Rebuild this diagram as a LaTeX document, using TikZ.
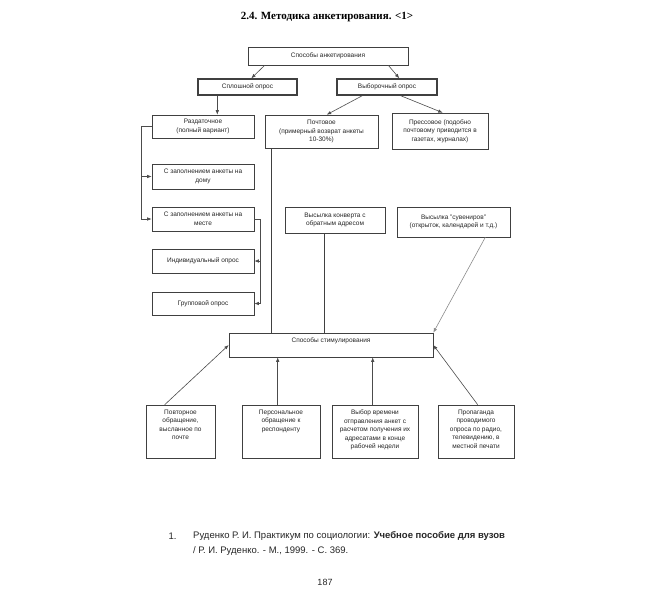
\documentclass[tikz,border=0pt]{standalone}
\usepackage{fontspec}
\setmainfont{Liberation Sans}
\newfontfamily\titlefont{Liberation Serif}
\usetikzlibrary{arrows.meta}
\newcommand\tbox[3]{\parbox[c][#1][t]{#2}{\centering\vspace*{3pt}#3}}
\begin{document}
\begin{tikzpicture}[x=1pt,y=-1pt,
  bx/.style={draw=black!75, line width=0.6pt, inner sep=1pt, align=center,
    font=\fontsize{6.5}{8.5}\selectfont, text=black!85},
  thk/.style={bx, line width=1.4pt},
  arr/.style={draw=black!70, line width=0.6pt, -{Latex[length=4.5pt,width=3.5pt]}},
  ln/.style={draw=black!75, line width=0.6pt},
]
\useasboundingbox (0,0) rectangle (650,610);
\fill[white] (0,0) rectangle (650,610);

% title
\node[font=\titlefont\bfseries\fontsize{11}{13}\selectfont] (title) at (327,17) {2.4. Методика анкетирования. <1>};

% top level
\node[bx, minimum width=160, minimum height=18] (top) at (328,56) {Способы анкетирования};
\node[thk, minimum width=99, minimum height=16] (spl) at (247.5,87) {Сплошной опрос};
\node[thk, minimum width=100, minimum height=16] (vyb) at (387,87) {Выборочный опрос};

% second level
\node[bx, minimum width=102, minimum height=23] (razd) at (203,126.5) {Раздаточное\\(полный вариант)};
\node[bx, minimum width=113, minimum height=33] (post) at (321.5,131.5) {Почтовое\\(примерный возврат анкеты\\10-30\%)};
\node[bx, minimum width=96, minimum height=36] (press) at (440,131) {Прессовое (подобно\\почтовому приводится в\\газетах, журналах)};

% left column
\node[bx, minimum width=102, minimum height=25] (doma) at (203,176.5) {С заполнением анкеты на\\дому};
\node[bx, minimum width=102, minimum height=24] (mesto) at (203,219) {С заполнением анкеты на\\месте};
\node[bx, minimum width=102, minimum height=24] (indiv) at (203,261) {Индивидуальный опрос};
\node[bx, minimum width=102, minimum height=23] (grupp) at (203,303.5) {Групповой опрос};

% middle right
\node[bx, minimum width=100, minimum height=26] (konv) at (335,220) {Высылка конверта с\\обратным адресом};
\node[bx, minimum width=113, minimum height=30] (suv) at (453.5,222) {Высылка "сувениров"\\(открыток, календарей и т.д.)};

% stimulation
\node[bx, minimum width=204, minimum height=24] (stim) at (331,345) {\tbox{20pt}{190pt}{Способы стимулирования}};

% bottom
\node[bx, minimum width=69, minimum height=53] (b1) at (180.5,431.5) {\tbox{49pt}{66pt}{Повторное\\обращение,\\высланное по\\почте}};
\node[bx, minimum width=78, minimum height=53] (b2) at (281,431.5) {\tbox{49pt}{74pt}{Персональное\\обращение к\\респонденту}};
\node[bx, minimum width=86, minimum height=53] (b3) at (375,431.5) {\tbox{49pt}{83pt}{Выбор времени\\отправления анкет с\\расчетом получения их\\адресатами в конце\\рабочей недели}};
\node[bx, minimum width=76, minimum height=53] (b4) at (476,431.5) {\tbox{49pt}{73pt}{Пропаганда\\проводимого\\опроса по радио,\\телевидению, в\\местной печати}};

% connectors top
\draw[arr] ([xshift=17pt]top.south west) -- ([xshift=54pt]spl.north west);
\draw[arr] ([xshift=-20pt]top.south east) -- ([xshift=63pt]vyb.north west);
\draw[arr] ([xshift=20pt]spl.south west) -- ([xshift=20pt]spl.south west |- razd.north);
\draw[arr] ([xshift=26pt]vyb.south west) -- ([xshift=62pt]post.north west);
\draw[arr] ([xshift=-37pt]vyb.south east) -- ([xshift=51pt]press.north west);

% left bracket
\draw[arr] (razd.west) -- ++(-10,0) |- (mesto.west);
\draw[arr] ([xshift=-10pt]razd.west) |- (doma.west);

% right bracket
\draw[arr] (mesto.east) -- ++(6,0) |- (grupp.east);
\draw[arr] ([xshift=6pt]mesto.east) |- (indiv.east);

% to stimulation
\draw[ln] ([xshift=7pt]post.south west) -- ([xshift=7pt]post.south west |- stim.north);
\draw[ln] ([xshift=40pt]konv.south west) -- ([xshift=40pt]konv.south west |- stim.north);
\draw[arr, draw=black!45] ([xshift=-25pt]suv.south east) -- (stim.north east);

% from bottom
\draw[arr] ([xshift=19pt]b1.north west) -- (stim.west);
\draw[arr] ([xshift=36pt]b2.north west) -- ([xshift=36pt]b2.north west |- stim.south);
\draw[arr] ([xshift=41pt]b3.north west) -- ([xshift=41pt]b3.north west |- stim.south);
\draw[arr] ([xshift=40pt]b4.north west) -- (stim.east);

% footnote
\node[anchor=base east, font=\fontsize{9.5}{15}\selectfont, text=black!85] (fnnum) at (180,539) {1.};
\node[anchor=north west, inner sep=0pt, align=left, font=\fontsize{9.5}{15}\selectfont, text=black!85] (fn) at (193,531) {Руденко Р. И. Практикум по социологии: \textbf{Учебное пособие для вузов}\\/ Р. И. Руденко. - М., 1999. - С. 369.};

% page number
\node[font=\fontsize{9}{11}\selectfont, text=black!85] (page) at (325,582) {187};
\end{tikzpicture}
\end{document}
